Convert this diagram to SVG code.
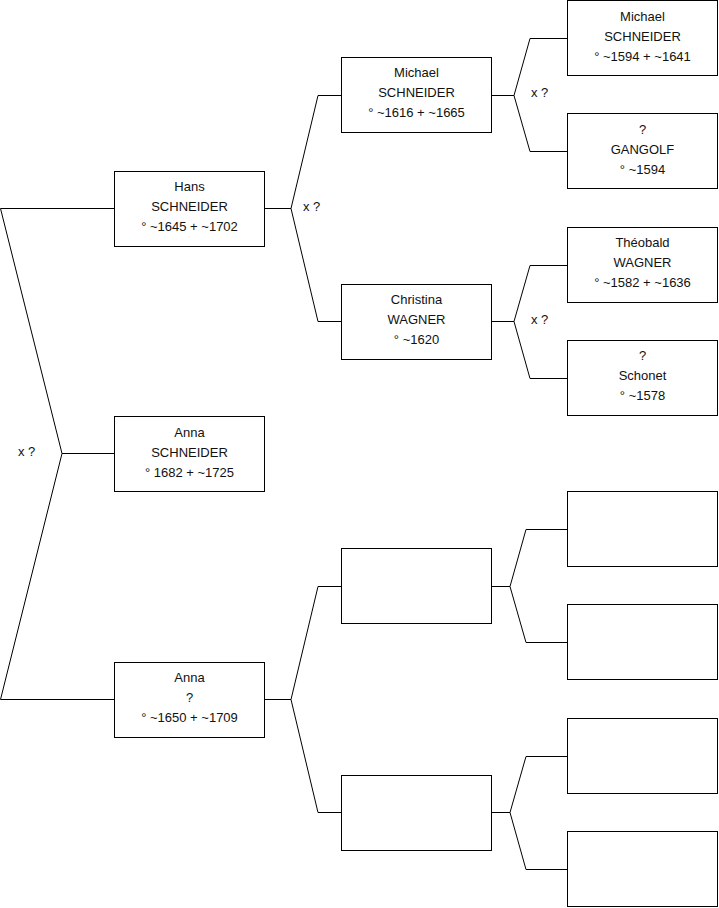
<svg xmlns="http://www.w3.org/2000/svg" width="719" height="908" viewBox="0 0 719 908">
<style>
.box{fill:#fff;stroke:#000;stroke-width:1}
.c{fill:none;stroke:#000;stroke-width:1}
text{font-family:"Liberation Sans",Arial,sans-serif;font-size:13px;fill:#111}
.t{text-anchor:middle}
</style>
<rect width="719" height="908" fill="#fff"/>
<g id="connectors">
<polyline class="c" points="114,208.5 0.5,208.5 62,453.5 0.5,699.5 114,699.5"/>
<line class="c" x1="62" y1="453.5" x2="114" y2="453.5"/>
<polyline class="c" points="341,95.5 318,95.5 291,208.5 318,321.5 341,321.5"/>
<line class="c" x1="265" y1="208.5" x2="291" y2="208.5"/>
<polyline class="c" points="341,586.5 318,586.5 291,699.5 318,812.5 341,812.5"/>
<line class="c" x1="265" y1="699.5" x2="291" y2="699.5"/>
<polyline class="c" points="567,38.5 530,38.5 514,95.5 530,151.5 567,151.5"/>
<line class="c" x1="492" y1="95.5" x2="514" y2="95.5"/>
<polyline class="c" points="567,265.5 530,265.5 514,321.5 530,378.5 567,378.5"/>
<line class="c" x1="492" y1="321.5" x2="514" y2="321.5"/>
<polyline class="c" points="567,529.5 526,529.5 510,586.5 526,642.5 567,642.5"/>
<line class="c" x1="492" y1="586.5" x2="510" y2="586.5"/>
<polyline class="c" points="567,756.5 526,756.5 510,812.5 526,869.5 567,869.5"/>
<line class="c" x1="492" y1="812.5" x2="510" y2="812.5"/>
<text x="18" y="456">x ?</text>
<text x="303" y="211">x ?</text>
<text x="531" y="97">x ?</text>
<text x="531" y="324">x ?</text>
</g>
<g id="hans">
<rect class="box" x="114.5" y="171.5" width="150" height="75"/>
<text class="t" x="189.5" y="191">Hans</text>
<text class="t" x="189.5" y="211">SCHNEIDER</text>
<text class="t" x="189.5" y="231">° ~1645 + ~1702</text>
</g>
<g id="anna-schneider">
<rect class="box" x="114.5" y="416.5" width="150" height="75"/>
<text class="t" x="189.5" y="437">Anna</text>
<text class="t" x="189.5" y="457">SCHNEIDER</text>
<text class="t" x="189.5" y="477">° 1682 + ~1725</text>
</g>
<g id="anna">
<rect class="box" x="114.5" y="662.5" width="150" height="75"/>
<text class="t" x="189.5" y="682">Anna</text>
<text class="t" x="189.5" y="702">?</text>
<text class="t" x="189.5" y="722">° ~1650 + ~1709</text>
</g>
<g id="michael-1616">
<rect class="box" x="341.5" y="57.5" width="150" height="75"/>
<text class="t" x="416.5" y="77">Michael</text>
<text class="t" x="416.5" y="97">SCHNEIDER</text>
<text class="t" x="416.5" y="117">° ~1616 + ~1665</text>
</g>
<g id="christina">
<rect class="box" x="341.5" y="284.5" width="150" height="75"/>
<text class="t" x="416.5" y="304">Christina</text>
<text class="t" x="416.5" y="324">WAGNER</text>
<text class="t" x="416.5" y="344">° ~1620</text>
</g>
<g id="empty-2a"><rect class="box" x="341.5" y="548.5" width="150" height="75"/></g>
<g id="empty-2b"><rect class="box" x="341.5" y="775.5" width="150" height="75"/></g>
<g id="michael-1594">
<rect class="box" x="567.5" y="0.5" width="150" height="75"/>
<text class="t" x="642.5" y="21">Michael</text>
<text class="t" x="642.5" y="41">SCHNEIDER</text>
<text class="t" x="642.5" y="61">° ~1594 + ~1641</text>
</g>
<g id="gangolf">
<rect class="box" x="567.5" y="113.5" width="150" height="75"/>
<text class="t" x="642.5" y="134">?</text>
<text class="t" x="642.5" y="154">GANGOLF</text>
<text class="t" x="642.5" y="174">° ~1594</text>
</g>
<g id="theobald">
<rect class="box" x="567.5" y="227.5" width="150" height="75"/>
<text class="t" x="642.5" y="247">Théobald</text>
<text class="t" x="642.5" y="267">WAGNER</text>
<text class="t" x="642.5" y="287">° ~1582 + ~1636</text>
</g>
<g id="schonet">
<rect class="box" x="567.5" y="340.5" width="150" height="75"/>
<text class="t" x="642.5" y="360">?</text>
<text class="t" x="642.5" y="380">Schonet</text>
<text class="t" x="642.5" y="400">° ~1578</text>
</g>
<g id="empty-3a"><rect class="box" x="567.5" y="491.5" width="150" height="75"/></g>
<g id="empty-3b"><rect class="box" x="567.5" y="604.5" width="150" height="75"/></g>
<g id="empty-3c"><rect class="box" x="567.5" y="718.5" width="150" height="75"/></g>
<g id="empty-3d"><rect class="box" x="567.5" y="831.5" width="150" height="75"/></g>
</svg>
